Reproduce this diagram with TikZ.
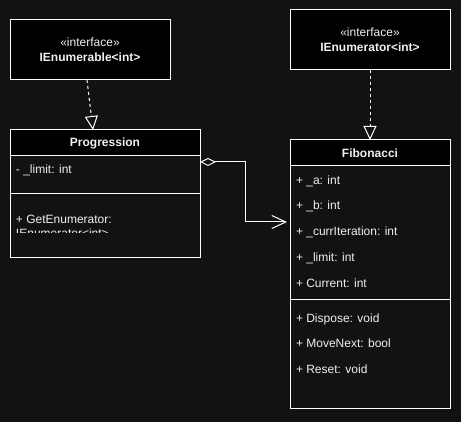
\documentclass[tikz,border=0pt]{standalone}
\usepackage{fontspec}
\setmainfont{Liberation Sans}
\usetikzlibrary{arrows.meta,calc}
\definecolor{bg}{HTML}{121212}
\definecolor{fg}{HTML}{F0F0F0}
\begin{document}
\begin{tikzpicture}[x=1pt,y=-1pt,line width=1pt,
  every node/.style={inner sep=0pt,outer sep=0pt,text=fg,font=\fontsize{12}{15}\selectfont},
  ifbox/.style={draw=white,fill=black,align=center},
  headbox/.style={draw=white,fill=black,font=\fontsize{12}{15}\selectfont\bfseries},
  bodybox/.style={draw=white,fill=bg},
  member/.style={anchor=base west},
  realize/.style={draw=white,dash pattern=on 3pt off 3pt,-{Triangle[open,length=14pt,width=13pt]}},
  aggr/.style={draw=white,{Diamond[open,length=16pt,width=8pt]}-{Straight Barb[length=14pt,width=13pt]}}
]
\fill[bg] (0,0) rectangle (461,422);
\useasboundingbox (0,0) rectangle (461,422);

% Interfaces
\node[ifbox,minimum width=160pt,minimum height=60pt] (ienum) at (90,50)
  {«interface»\\\textbf{IEnumerable<int>}};
\node[ifbox,minimum width=160pt,minimum height=60pt] (ienumr) at (370,40)
  {«interface»\\\textbf{IEnumerator<int>}};

% Progression
\node[bodybox,minimum width=190pt,minimum height=38pt] (progf) at (105,175) {};
\node[bodybox,minimum width=190pt,minimum height=64pt] (progm) at (105,226) {};
\node[headbox,minimum width=190pt,minimum height=26pt] (prog) at (105,143) {Progression};
\node[member] (pl) at (16,174) {- \_limit: int};
\begin{scope}
\clip (11,195) rectangle (199,233);
\node[member] (pg1) at (16,224) {+ GetEnumerator:};
\node[member] (pg2) at (16,238) {IEnumerator<int>};
\end{scope}

% Fibonacci
\node[bodybox,minimum width=160pt,minimum height=134pt] (fibf) at (370,233) {};
\node[bodybox,minimum width=160pt,minimum height=108pt] (fibm) at (370,354) {};
\node[headbox,minimum width=160pt,minimum height=26pt] (fib) at (370,153) {Fibonacci};
\node[member] (fa) at (296,184.5) {+ \_a: int};
\node[member] (fb) at (296,210) {+ \_b: int};
\node[member] (fc) at (296,235.5) {+ \_currIteration: int};
\node[member] (fl) at (296,261.5) {+ \_limit: int};
\node[member] (fcur) at (296,287.5) {+ Current: int};
\node[member] (fd) at (296,322.5) {+ Dispose: void};
\node[member] (fm) at (296,348) {+ MoveNext: bool};
\node[member] (fr) at (296,373.5) {+ Reset: void};

% Connectors
\draw[realize] ($(ienum.south west)+(77,0)$) -- ($(prog.north west)+(83,0)$);
\draw[realize] (ienumr.south) -- (fib.north);
\coordinate (bend) at ($(progf.north east)+(45,6)$);
\coordinate (aend) at ($(fibf.west)+(-3,-11)$);
\draw[aggr] ($(progf.north east)+(0,6)$) -- (bend) -- (bend |- aend) -- (aend);
\end{tikzpicture}
\end{document}
